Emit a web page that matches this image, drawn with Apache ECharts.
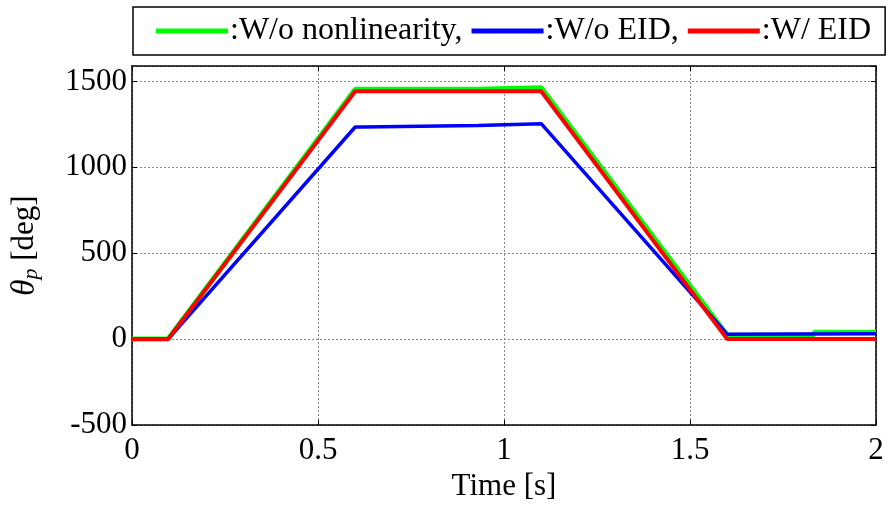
<!DOCTYPE html>
<html><head><meta charset="utf-8">
<script src="https://cdn.jsdelivr.net/npm/echarts@6/dist/echarts.min.js"></script>
<style>html,body{margin:0;padding:0;background:#fff}#c{width:892px;height:507px}</style>
</head><body><div id="c"></div>
<script>
// Data (time in s, angle in deg)
const seriesNames = ["W/o nonlinearity", "W/o EID", "W/ EID"];
const greenT = [0, 0.097, 0.6, 0.93, 0.935, 1.1, 1.6, 1.83, 1.835, 2];
const greenV = [0, 0, 1455, 1455, 1463, 1463, 23, 23, 40, 40];
const blueT = [0, 0.097, 0.6, 0.62, 0.625, 0.93, 0.935, 1.1, 1.6, 2];
const blueV = [0, 0, 1235, 1235, 1244, 1244, 1254, 1254, 29, 31];
const redT = [0, 0.097, 0.6, 1.1, 1.6, 2];
const redV = [0, 0, 1443, 1443, 0, 0];
const xTicks = [0, 0.5, 1, 1.5, 2];
const yTicks = [-500, 0, 500, 1000, 1500];

const pair = (t, v) => t.map((x, i) => [x, v[i]]);
const font = "'Liberation Serif','Times New Roman',serif";
const chart = echarts.init(document.getElementById('c'), null, {renderer: 'canvas'});
const axisCommon = {
  axisLine: {show: true, onZero: false, lineStyle: {color: '#000', width: 1.5}},
  axisTick: {show: true, inside: true, length: 5, lineStyle: {color: '#000', width: 1}},
};
chart.setOption({
  animation: false,
  backgroundColor: '#fff',
  grid: {left: 132, right: 16, top: 66, bottom: 80, containLabel: false},
  legend: {
    left: 133, top: 7,
    padding: [8, 14, 8, 23],
    borderColor: '#000', borderWidth: 1.5,
    itemWidth: 72, itemHeight: 5, itemGap: 9,
    icon: 'rect',
    data: seriesNames.map((n, i) => ({name: n})),
    formatter: (n) => ':' + n + (n === seriesNames[2] ? '' : ','),
    textStyle: {fontFamily: font, fontSize: 32, color: '#000', padding: [0, 0, 0, -3]}
  },
  xAxis: [{
    type: 'value', min: 0, max: 2, interval: 0.5, position: 'bottom',
    ...axisCommon,
    axisLabel: {color: '#000', fontFamily: font, fontSize: 31, margin: 10,
      formatter: v => xTicks.includes(v) ? String(v) : ''},
    splitLine: {show: true, lineStyle: {color: '#888', type: [2, 2], width: 1}},
    name: 'Time [s]', nameLocation: 'middle', nameGap: 46,
    nameTextStyle: {fontFamily: font, fontSize: 31, color: '#000'}
  }, {
    type: 'value', min: 0, max: 2, interval: 0.5, position: 'top',
    ...axisCommon, axisLabel: {show: false}, splitLine: {show: false}
  }],
  yAxis: [{
    type: 'value', min: -500, max: 1590, interval: 500, position: 'left',
    ...axisCommon,
    axisLabel: {color: '#000', fontFamily: font, fontSize: 31, margin: 5, showMaxLabel: false,
      formatter: v => yTicks.includes(v) ? String(v) : ''},
    splitLine: {show: true, lineStyle: {color: '#888', type: [2, 2], width: 1}},
    name: '{th|θ}{sub|p}{n| [deg]}', nameLocation: 'middle', nameGap: 90,
    nameTextStyle: {fontFamily: font, fontSize: 31, color: '#000',
      rich: {
        th: {fontFamily: font, fontSize: 33, fontStyle: 'italic', color: '#000'},
        sub: {fontFamily: font, fontSize: 22, fontStyle: 'italic', color: '#000', verticalAlign: 'bottom', padding: [12, 0, 0, 0]},
        n: {fontFamily: font, fontSize: 31, color: '#000'}
      }}
  }, {
    type: 'value', min: -500, max: 1590, interval: 500, position: 'right',
    ...axisCommon, axisLabel: {show: false}, splitLine: {show: false}
  }],
  series: [
    {name: seriesNames[0], type: 'line', data: pair(greenT, greenV), showSymbol: false,
     lineStyle: {color: '#00ff00', width: 5}, itemStyle: {color: '#00ff00'}, z: 2},
    {name: seriesNames[1], type: 'line', data: pair(blueT, blueV), showSymbol: false,
     lineStyle: {color: '#0000ff', width: 3.5}, itemStyle: {color: '#0000ff'}, z: 3},
    {name: seriesNames[2], type: 'line', data: pair(redT, redV), showSymbol: false,
     lineStyle: {color: '#ff0000', width: 4}, itemStyle: {color: '#ff0000'}, z: 4}
  ]
});
</script></body></html>
